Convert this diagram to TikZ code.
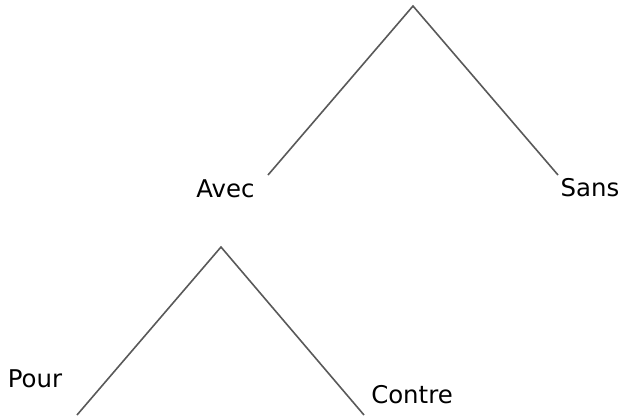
\documentclass[tikz,border=0pt]{standalone}
\usepackage{fontspec}
\setmainfont{DejaVu Sans}
\begin{document}
\begin{tikzpicture}[x=0.5pt,y=-0.5pt,
    branch/.style={draw=black!65,line width=0.8pt},
    word/.style={anchor=base,inner sep=0pt,font=\fontsize{12.2}{14}\selectfont}]
      \useasboundingbox (0,0) rectangle (619,419);
      % upper tree
      \coordinate (top) at (413,6);
      \coordinate (avec) at (268,175);
      \coordinate (sans) at (558,175);
      \draw[branch] (avec) -- (top) -- (sans);
      \node[word] (lavec) at (225.5,197) {Avec};
      \node[word] (lsans) at (590,196) {Sans};
      % lower tree
      \coordinate (bot) at (221,247);
      \coordinate (pour) at (77,415);
      \coordinate (contre) at (364,415);
      \draw[branch] (pour) -- (bot) -- (contre);
      \node[word] (lpour) at (35,387) {Pour};
      \node[word] (lcontre) at (412,403) {Contre};
    \end{tikzpicture}
\end{document}
